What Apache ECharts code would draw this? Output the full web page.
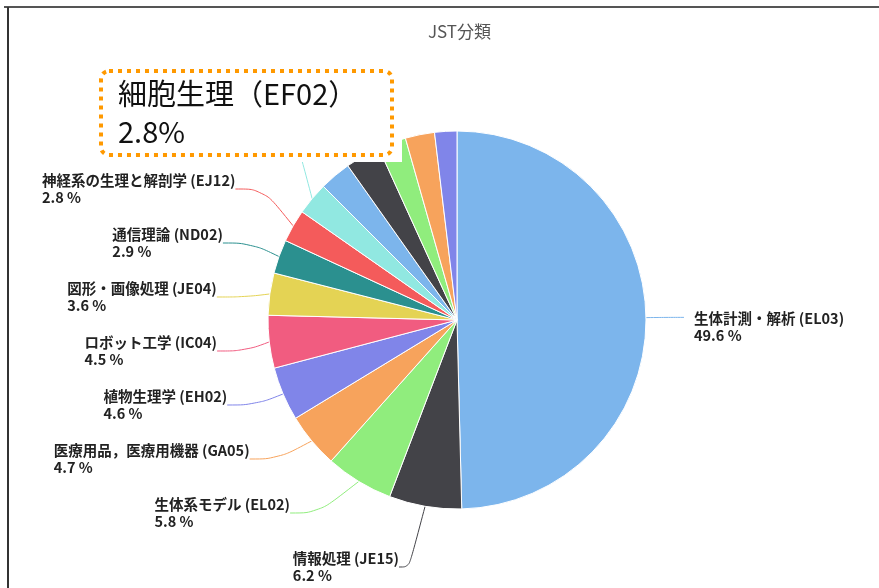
<!DOCTYPE html>
<html>
<head>
<meta charset="utf-8">
<script src="https://cdn.jsdelivr.net/npm/echarts@6/dist/echarts.min.js"></script>
<style>
html, body { margin: 0; padding: 0; background: #fff; }
#main { width: 879px; height: 588px; }
</style>
</head>
<body>
<div id="main"></div>
<script>
// JST分類 の内訳（%）
var names = [
    '生体計測・解析 (EL03)', '情報処理 (JE15)', '生体系モデル (EL02)',
    '医療用品，医療用機器 (GA05)', '植物生理学 (EH02)', 'ロボット工学 (IC04)',
    '図形・画像処理 (JE04)', '通信理論 (ND02)', '神経系の生理と解剖学 (EJ12)',
    '細胞生理 (EF02)', 'その他A', 'その他B', 'その他C', 'その他D', 'その他E'
];
var values = [49.6, 6.2, 5.8, 4.7, 4.6, 4.5, 3.6, 2.9, 2.8, 2.8, 2.7, 3.0, 2.4, 2.5, 1.9];
// 1: ラベル表示, 2: 吹き出しの下に隠れる（線だけ見える）, 0: なし
var labelMode = [1, 1, 1, 1, 1, 1, 1, 1, 1, 2, 0, 0, 0, 0, 0];
var colors = ['#7cb5ec', '#434348', '#90ed7d', '#f7a35c', '#8085e9',
    '#f15c80', '#e4d354', '#2b908f', '#f45b5b', '#91e8e1'];

var pieData = names.map(function (n, i) {
    var item = {
        name: n,
        value: values[i],
        label: { show: labelMode[i] > 0 },
        labelLine: { show: labelMode[i] > 0 }
    };
    if (labelMode[i] == 2) {
        item.label.color = 'rgba(0,0,0,0)';
    }
    return item;
});
// 情報処理は真下に伸びる線
pieData[1].labelLine.length = 36;
pieData[1].labelLine.length2 = 10;
// 右側の大きい項目は線を短めに
pieData[0].labelLine.length = 20;
pieData[0].labelLine.length2 = 18;

var chart = echarts.init(document.getElementById('main'));
chart.setOption({
    color: colors,
    animation: false,
    title: {
        text: 'JST分類',
        left: 423,
        top: 18,
        textStyle: { color: '#555', fontSize: 17, fontWeight: 'normal', fontFamily: 'Noto Sans CJK JP' }
    },
    series: [{
        type: 'pie',
        center: [457, 320],
        radius: 189,
        startAngle: 90,
        itemStyle: { borderColor: '#fff', borderWidth: 1 },
        label: {
            fontFamily: 'Noto Sans CJK JP',
            fontSize: 14.5,
            fontWeight: 'bold',
            color: '#222',
            lineHeight: 17,
            padding: [9, 0, 9, 0],
            distanceToLabelLine: 10,
            formatter: function (p) { return p.name + '\n' + p.value.toFixed(1) + ' %'; }
        },
        labelLine: { length: 24, length2: 28, smooth: 0.4 },
        labelLayout: function (p) {
            if (p.dataIndex == 9) {
                // 吹き出しの下へ
                return { dy: -30 };
            }
            if (p.dataIndex == 0) {
                return { dy: 10 };
            }
            // 左側のラベルは行頭を揃える
            if (p.labelRect.x + p.labelRect.width / 2 < 457) {
                return { x: p.labelRect.x, align: 'left', dy: 6 };
            }
        },
        data: pieData
    }],
    graphic: [
        { type: 'line', z: 100, shape: { x1: 4, y1: 7, x2: 879, y2: 7 }, style: { stroke: '#555', lineWidth: 2 } },
        { type: 'line', z: 100, shape: { x1: 8, y1: 7, x2: 8, y2: 588 }, style: { stroke: '#333', lineWidth: 2 } },
        { type: 'rect', z: 100, shape: { x: 94, y: 62, width: 308, height: 100 }, style: { fill: '#fff' } },
        {
            type: 'rect', z: 101,
            shape: { x: 101, y: 71, width: 291, height: 84, r: 8 },
            style: { fill: '#fff', stroke: '#ff9900', lineWidth: 4, lineDash: [4, 5] }
        },
        {
            type: 'text', z: 102, left: 118, top: 75,
            style: {
                text: '細胞生理（EF02）\n2.8%',
                font: '29px "Noto Sans CJK JP"',
                lineHeight: 38,
                fill: '#111'
            }
        }
    ]
});
</script>
</body>
</html>
